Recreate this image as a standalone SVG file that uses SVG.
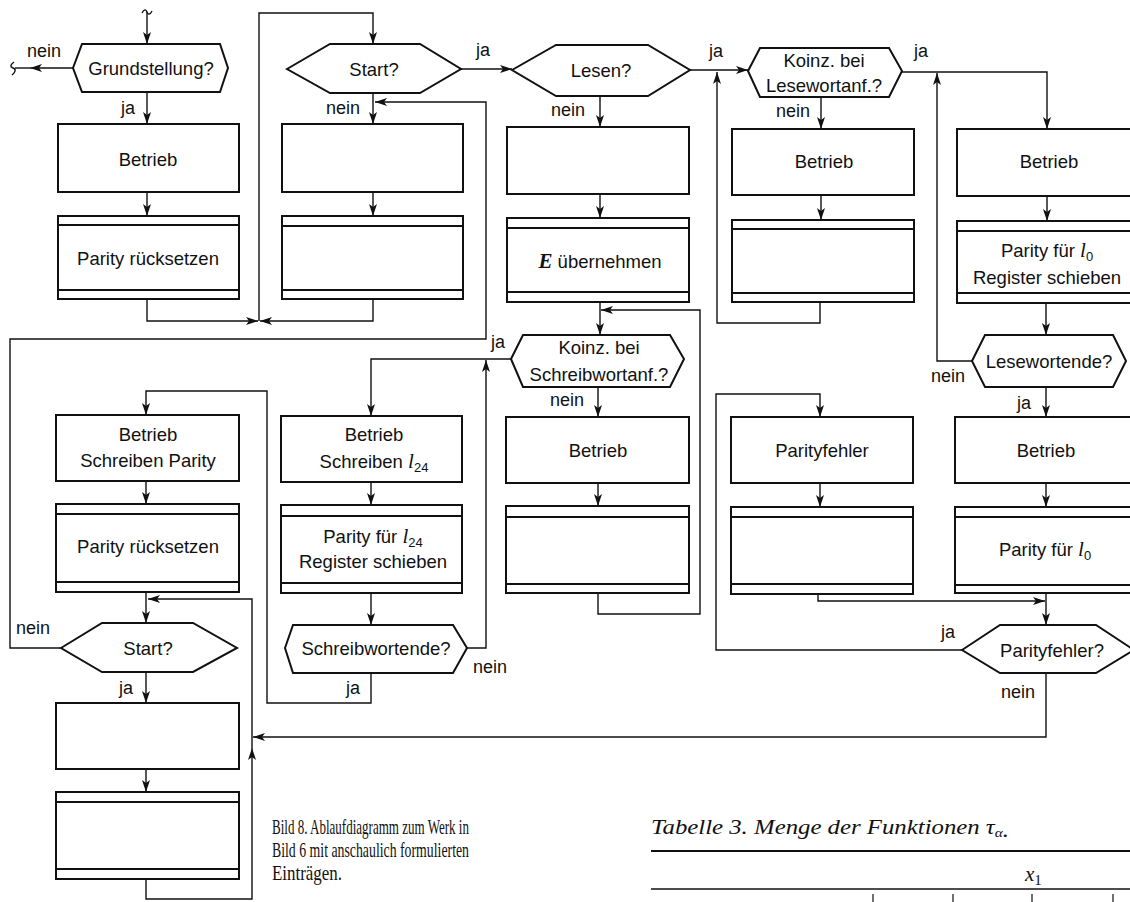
<svg xmlns="http://www.w3.org/2000/svg" width="1130" height="902" viewBox="0 0 1130 902">
<style>
.box{fill:#fff;stroke:#111;stroke-width:2}
.sep{fill:none;stroke:#111;stroke-width:1.8}
.ln{fill:none;stroke:#111;stroke-width:1.4}
.t{font-family:"Liberation Sans",Arial,sans-serif;font-size:18.5px;fill:#111;text-anchor:middle}
.l{font-family:"Liberation Sans",Arial,sans-serif;font-size:18px;fill:#111}
.it{font-family:"Liberation Serif","Times New Roman",serif;font-style:italic}
.cap{font-family:"Liberation Serif","Times New Roman",serif;font-size:21px;fill:#111}
</style>
<defs>
<marker id="ah" viewBox="0 0 12 8" refX="12" refY="4" markerWidth="12" markerHeight="8" markerUnits="userSpaceOnUse" orient="auto">
<path d="M0,0 L12,4 L0,8 L3,4 z" fill="#111"/>
</marker>
</defs>
<rect width="1130" height="902" fill="#fff"/>

<g id="connectors">
<path class="ln" d="M142,13 C144,9 146,9 147,12 C148,15 150,15 152,11"/>
<path class="ln" d="M147,12 V44" marker-end="url(#ah)"/>
<path class="ln" d="M73,68 H30" marker-end="url(#ah)"/>
<path class="ln" d="M30,68 H15"/>
<path class="ln" d="M14,62 C10,65 10,67 13,68 C16,69 16,72 12,75"/>
<path class="ln" d="M147,92 V124" marker-end="url(#ah)"/>
<path class="ln" d="M147,192 V216" marker-end="url(#ah)"/>
<path class="ln" d="M147,299 V321 H258" marker-end="url(#ah)"/>
<path class="ln" d="M373,299 V321 H260" marker-end="url(#ah)"/>
<path class="ln" d="M259,321 V13 H373 V44" marker-end="url(#ah)"/>
<path class="ln" d="M373,93 V124" marker-end="url(#ah)"/>
<path class="ln" d="M373,192 V216" marker-end="url(#ah)"/>
<path class="ln" d="M461,69 H512" marker-end="url(#ah)"/>
<path class="ln" d="M600,96 V127" marker-end="url(#ah)"/>
<path class="ln" d="M600,194 V218" marker-end="url(#ah)"/>
<path class="ln" d="M600,302 V335" marker-end="url(#ah)"/>
<path class="ln" d="M598,593 V614 H700 V310 H601" marker-end="url(#ah)"/>
<path class="ln" d="M690,70 H748" marker-end="url(#ah)"/>
<path class="ln" d="M820,302 V323 H717 V72" marker-end="url(#ah)"/>
<path class="ln" d="M821,97 V129" marker-end="url(#ah)"/>
<path class="ln" d="M821,195 V220" marker-end="url(#ah)"/>
<path class="ln" d="M902,72 H1047 V129" marker-end="url(#ah)"/>
<path class="ln" d="M972,361 H937 V73" marker-end="url(#ah)"/>
<path class="ln" d="M1047,196 V221" marker-end="url(#ah)"/>
<path class="ln" d="M1046,303 V335" marker-end="url(#ah)"/>
<path class="ln" d="M1046,387 V417" marker-end="url(#ah)"/>
<path class="ln" d="M1046,483 V507" marker-end="url(#ah)"/>
<path class="ln" d="M1046,593 V625" marker-end="url(#ah)"/>
<path class="ln" d="M818,594 V601 H1045" marker-end="url(#ah)"/>
<path class="ln" d="M962,650 H716 V394 H820 V417" marker-end="url(#ah)"/>
<path class="ln" d="M820,483 V507" marker-end="url(#ah)"/>
<path class="ln" d="M1046,673 V737 H253" marker-end="url(#ah)"/>
<path class="ln" d="M511,359 H371 V416" marker-end="url(#ah)"/>
<path class="ln" d="M467,648 H486 V360" marker-end="url(#ah)"/>
<path class="ln" d="M598,387 V417" marker-end="url(#ah)"/>
<path class="ln" d="M598,483 V506" marker-end="url(#ah)"/>
<path class="ln" d="M371,482 V505" marker-end="url(#ah)"/>
<path class="ln" d="M371,593 V625" marker-end="url(#ah)"/>
<path class="ln" d="M371,673 V703 H267 V391 H146 V415" marker-end="url(#ah)"/>
<path class="ln" d="M146,481 V504" marker-end="url(#ah)"/>
<path class="ln" d="M61,648 H10 V339 H486 V102 H375" marker-end="url(#ah)"/>
<path class="ln" d="M146,592 V623" marker-end="url(#ah)"/>
<path class="ln" d="M146,879 V899 H252 V748" marker-end="url(#ah)"/>
<path class="ln" d="M252,748 V599 H148" marker-end="url(#ah)"/>
<path class="ln" d="M146,672 V703" marker-end="url(#ah)"/>
<path class="ln" d="M146,769 V792" marker-end="url(#ah)"/>
</g>

<g id="labels">
<text class="l" x="27" y="57">nein</text>
<text class="l" x="121" y="114">ja</text>
<text class="l" x="476" y="56">ja</text>
<text class="l" x="326" y="114">nein</text>
<text class="l" x="551" y="116">nein</text>
<text class="l" x="709" y="57">ja</text>
<text class="l" x="776" y="117">nein</text>
<text class="l" x="914" y="57">ja</text>
<text class="l" x="931" y="382">nein</text>
<text class="l" x="1017" y="409">ja</text>
<text class="l" x="941" y="638">ja</text>
<text class="l" x="1001" y="698">nein</text>
<text class="l" x="491" y="348">ja</text>
<text class="l" x="550" y="406">nein</text>
<text class="l" x="346" y="694">ja</text>
<text class="l" x="473" y="673">nein</text>
<text class="l" x="16" y="634">nein</text>
<text class="l" x="119" y="694">ja</text>
</g>

<g id="n_grund"><polygon class="box" points="73,68 82,44 220,44 228,68 220,92 82,92"/><text class="t" x="151" y="75">Grundstellung?</text></g>
<g id="n_betrieb1"><rect class="box" x="58" y="124" width="181" height="68"/><text class="t" x="148" y="166">Betrieb</text></g>
<g id="n_parity1"><rect class="box" x="58" y="216" width="181" height="83"/><path class="sep" d="M58,225 H239 M58,290 H239"/><text class="t" x="148" y="265">Parity rücksetzen</text></g>

<g id="n_start1"><polygon class="box" points="287,69 330,44 420,44 461,69 420,93 330,93"/><text class="t" x="374" y="76">Start?</text></g>
<g id="n_box2a"><rect class="box" x="282" y="124" width="181" height="68"/></g>
<g id="n_box2b"><rect class="box" x="282" y="216" width="181" height="83"/><path class="sep" d="M282,226 H463 M282,290 H463"/></g>

<g id="n_lesen"><polygon class="box" points="512,70 556,45 648,45 690,70 648,96 556,96"/><text class="t" x="601" y="77">Lesen?</text></g>
<g id="n_box3a"><rect class="box" x="507" y="127" width="182" height="67"/></g>
<g id="n_box3b"><rect class="box" x="507" y="218" width="182" height="84"/><path class="sep" d="M507,228 H689 M507,292 H689"/><text class="t" x="600" y="268"><tspan class="it" font-weight="bold" font-size="21">E</tspan> übernehmen</text></g>

<g id="n_koinzL"><polygon class="box" points="748,71 760,48 889,48 902,71 889,97 760,97"/><text class="t" x="824" y="67">Koinz. bei</text><text class="t" x="824" y="92">Lesewortanf.?</text></g>
<g id="n_box4a"><rect class="box" x="732" y="129" width="182" height="66"/><text class="t" x="824" y="168">Betrieb</text></g>
<g id="n_box4b"><rect class="box" x="732" y="220" width="182" height="82"/><path class="sep" d="M732,229 H914 M732,293 H914"/></g>

<g id="n_box5a"><rect class="box" x="957" y="129" width="185" height="67"/><text class="t" x="1049" y="168">Betrieb</text></g>
<g id="n_box5b"><rect class="box" x="957" y="221" width="185" height="82"/><path class="sep" d="M957,231 H1142 M957,293 H1142"/><text class="t" x="1047" y="257">Parity für <tspan class="it" font-size="21">l</tspan><tspan font-size="13" dy="4">0</tspan></text><text class="t" x="1047" y="284">Register schieben</text></g>
<g id="n_lesewe"><polygon class="box" points="972,361 985,335 1113,335 1126,361 1113,387 985,387"/><text class="t" x="1049" y="368">Lesewortende?</text></g>
<g id="n_box6a"><rect class="box" x="955" y="417" width="187" height="66"/><text class="t" x="1046" y="457">Betrieb</text></g>
<g id="n_box6b"><rect class="box" x="955" y="507" width="187" height="86"/><path class="sep" d="M955,517 H1142 M955,585 H1142"/><text class="t" x="1045" y="556">Parity für <tspan class="it" font-size="21">l</tspan><tspan font-size="13" dy="4">0</tspan></text></g>
<g id="n_pfq"><polygon class="box" points="962,650 1000,625 1096,625 1134,650 1096,673 1000,673"/><text class="t" x="1052" y="657">Parityfehler?</text></g>

<g id="n_pf"><rect class="box" x="731" y="417" width="182" height="66"/><text class="t" x="822" y="457">Parityfehler</text></g>
<g id="n_box7b"><rect class="box" x="731" y="507" width="182" height="87"/><path class="sep" d="M731,517 H913 M731,584 H913"/></g>

<g id="n_koinzS"><polygon class="box" points="511,359 523,335 670,335 684,359 670,387 523,387"/><text class="t" x="599" y="354">Koinz. bei</text><text class="t" x="599" y="381">Schreibwortanf.?</text></g>
<g id="n_box8a"><rect class="box" x="506" y="417" width="183" height="66"/><text class="t" x="598" y="457">Betrieb</text></g>
<g id="n_box8b"><rect class="box" x="506" y="506" width="183" height="87"/><path class="sep" d="M506,517 H689 M506,584 H689"/></g>

<g id="n_bs24"><rect class="box" x="281" y="416" width="181" height="66"/><text class="t" x="374" y="441">Betrieb</text><text class="t" x="374" y="468">Schreiben <tspan class="it" font-size="21">l</tspan><tspan font-size="13" dy="4">24</tspan></text></g>
<g id="n_p24"><rect class="box" x="281" y="505" width="181" height="88"/><path class="sep" d="M281,516 H462 M281,583 H462"/><text class="t" x="373" y="543">Parity für <tspan class="it" font-size="21">l</tspan><tspan font-size="13" dy="4">24</tspan></text><text class="t" x="373" y="568">Register schieben</text></g>
<g id="n_swe"><polygon class="box" points="285,648 293,625 453,625 467,648 453,673 293,673"/><text class="t" x="376" y="655">Schreibwortende?</text></g>

<g id="n_bsp"><rect class="box" x="56" y="415" width="183" height="66"/><text class="t" x="148" y="441">Betrieb</text><text class="t" x="148" y="467">Schreiben Parity</text></g>
<g id="n_pr2"><rect class="box" x="56" y="504" width="183" height="88"/><path class="sep" d="M56,514 H239 M56,582 H239"/><text class="t" x="148" y="553">Parity rücksetzen</text></g>
<g id="n_start2"><polygon class="box" points="61,648 102,623 193,623 237,648 193,672 102,672"/><text class="t" x="148" y="655">Start?</text></g>
<g id="n_box9a"><rect class="box" x="56" y="703" width="183" height="66"/></g>
<g id="n_box9b"><rect class="box" x="56" y="792" width="183" height="87"/><path class="sep" d="M56,802 H239 M56,869 H239"/></g>

<g id="caption">
<text class="cap" x="272" y="834" textLength="197" lengthAdjust="spacingAndGlyphs">Bild 8. Ablaufdiagramm zum Werk in</text>
<text class="cap" x="272" y="857" textLength="197" lengthAdjust="spacingAndGlyphs">Bild 6 mit anschaulich formulierten</text>
<text class="cap" x="272" y="880" textLength="70" lengthAdjust="spacingAndGlyphs">Einträgen.</text>
</g>
<g id="table">
<text class="cap" font-style="italic" x="651" y="834" textLength="358" lengthAdjust="spacingAndGlyphs">Tabelle 3. Menge der Funktionen τ<tspan font-size="13" dy="3">α</tspan>.</text>
<path d="M651,851 H1130" stroke="#111" stroke-width="2"/>
<text class="cap" font-style="italic" font-size="22" x="1025" y="881">x<tspan font-style="normal" font-size="15" dy="4">1</tspan></text>
<path d="M651,889 H1130" stroke="#111" stroke-width="1.6"/>
<path d="M873,894 V902 M953,894 V902 M1032,894 V902 M1113,894 V902" stroke="#111" stroke-width="1.2"/>
</g>
</svg>
